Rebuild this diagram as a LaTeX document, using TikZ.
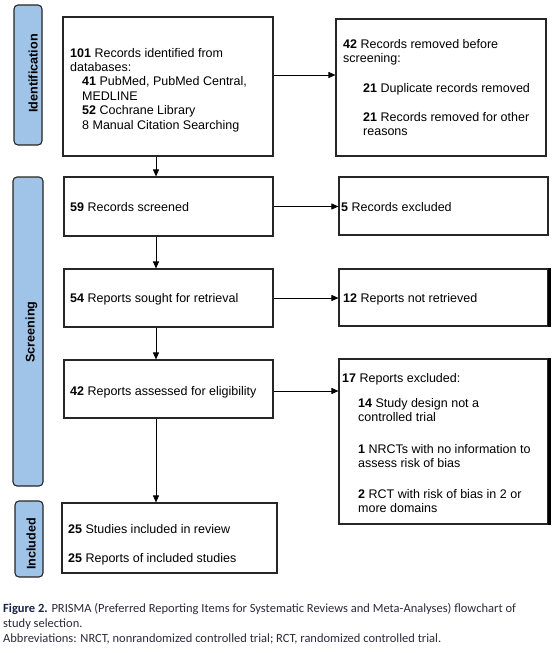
\documentclass[tikz,border=0pt]{standalone}
\usepackage{fontspec}
\setmainfont{Liberation Sans}
\newfontfamily\capfont{Carlito}
\usetikzlibrary{arrows.meta}
\definecolor{labelblue}{RGB}{160,196,232}
\definecolor{capgray}{RGB}{45,42,60}
\definecolor{capnavy}{RGB}{25,35,70}
\begin{document}
\begin{tikzpicture}[x=1pt,y=-1pt,
  flowbox/.style={draw=black!85, line width=1.1pt, rectangle, inner sep=0pt},
  stagebox/.style={draw=black!85, line width=1.1pt, rounded corners=4pt, fill=labelblue, inner sep=0pt},
  stagetext/.style={rotate=90, anchor=base, font=\fontsize{12.6}{14}\selectfont\bfseries},
  txt/.style={anchor=base west, inner sep=0pt, font=\fontsize{12.5}{14.4}\selectfont},
  arr/.style={draw=black, line width=0.9pt, -{Triangle[length=7pt,width=6pt]}},
  captxt/.style={anchor=base west, inner sep=0pt, font=\capfont\fontsize{12.5}{14}\selectfont, text=capgray}
]
\useasboundingbox (0,0) rectangle (556,653);
\fill[white] (0,0) rectangle (556,653);

% stage labels
\node[stagebox, minimum width=28pt, minimum height=140pt] (lid) at (28,75) {};
\node[stagetext] (tid) at (37.5,73.5) {Identification};
\node[stagebox, minimum width=30pt, minimum height=309pt] (lsc) at (28,331.5) {};
\node[stagetext] (tsc) at (34.5,332) {Screening};
\node[stagebox, minimum width=28pt, minimum height=76pt] (lin) at (29,539) {};
\node[stagetext] (tin) at (35.5,544) {Included};

% boxes
\node[flowbox, minimum width=210pt, minimum height=139pt] (b1) at (168,86.5) {};
\node[flowbox, minimum width=210pt, minimum height=137pt] (b2) at (441,87.5) {};
\node[flowbox, minimum width=209pt, minimum height=59pt] (b3) at (168.5,206.5) {};
\node[flowbox, minimum width=209pt, minimum height=58pt] (b4) at (443.5,206) {};
\node[flowbox, minimum width=209pt, minimum height=58pt] (b5) at (168.5,298) {};
\node[flowbox, minimum width=209pt, minimum height=57pt] (b6) at (443.5,297.5) {};
\node[flowbox, minimum width=209pt, minimum height=58pt] (b7) at (168.5,389) {};
\node[flowbox, minimum width=209pt, minimum height=165pt] (b8) at (443.5,441.5) {};
\node[flowbox, minimum width=215pt, minimum height=70pt] (b9) at (169.5,538) {};
\draw[line width=3pt] ([xshift=1pt]b6.north east) -- ([xshift=1pt]b6.south east);
\draw[line width=3pt] ([xshift=1pt]b8.north east) -- ([xshift=1pt]b8.south east);

% texts
\node[txt] (t1a) at (70,57) {\begin{tabular}[t]{@{}l@{}}\textbf{101} Records identified from\\databases:\end{tabular}};
\node[txt] (t1b) at (82,85.8) {\begin{tabular}[t]{@{}l@{}}\textbf{41} PubMed, PubMed Central,\\MEDLINE\\\textbf{52} Cochrane Library\\8 Manual Citation Searching\end{tabular}};

\node[txt] (t2a) at (343,48) {\begin{tabular}[t]{@{}l@{}}\textbf{42} Records removed before\\screening:\end{tabular}};
\node[txt] (t2b) at (363,92) {\textbf{21} Duplicate records removed};
\node[txt] (t2c) at (363,121) {\begin{tabular}[t]{@{}l@{}}\textbf{21} Records removed for other\\reasons\end{tabular}};

\node[txt] (t3) at (70,211) {\textbf{59} Records screened};
\node[txt] (t4) at (341,211) {\textbf{5} Records excluded};
\node[txt] (t5) at (70,302) {\textbf{54} Reports sought for retrieval};
\node[txt] (t6) at (343,302) {\textbf{12} Reports not retrieved};
\node[txt] (t7) at (70,395) {\textbf{42} Reports assessed for eligibility};

\node[txt] (t8a) at (342,382) {\textbf{17} Reports excluded:};
\node[txt] (t8b) at (358,407) {\begin{tabular}[t]{@{}l@{}}\textbf{14} Study design not a\\controlled trial\end{tabular}};
\node[txt] (t8c) at (358,453) {\begin{tabular}[t]{@{}l@{}}\textbf{1} NRCTs with no information to\\assess risk of bias\end{tabular}};
\node[txt] (t8d) at (358,498) {\begin{tabular}[t]{@{}l@{}}\textbf{2} RCT with risk of bias in 2 or\\more domains\end{tabular}};

\node[txt] (t9a) at (68,533) {\textbf{25} Studies included in review};
\node[txt] (t9b) at (68,562) {\textbf{25} Reports of included studies};

% connectors
\coordinate (ax) at (156,0);
\coordinate (hy1) at (0,75);
\draw[arr] (b1.east |- hy1) -- (b2.west |- hy1);
\draw[arr] (ax |- b1.south) -- (ax |- b3.north);
\draw[arr] (b3.east) -- (b3.east -| b4.west);
\draw[arr] (ax |- b3.south) -- (ax |- b5.north);
\draw[arr] (b5.east) -- (b5.east -| b6.west);
\draw[arr] (ax |- b5.south) -- (ax |- b7.north);
\coordinate (hy7) at (0,391);
\draw[arr] (b7.east |- hy7) -- (b8.west |- hy7);
\draw[arr] (ax |- b7.south) -- (ax |- b9.north);

% caption
\node[captxt] (c1) at (3,612) {{\bfseries\color{capnavy}Figure 2.} PRISMA (Preferred Reporting Items for Systematic Reviews and Meta-Analyses) flowchart of};
\node[captxt] (c2) at (3,627) {study selection.};
\node[captxt] (c3) at (3,642) {Abbreviations: NRCT, nonrandomized controlled trial; RCT, randomized controlled trial.};
\end{tikzpicture}
\end{document}
